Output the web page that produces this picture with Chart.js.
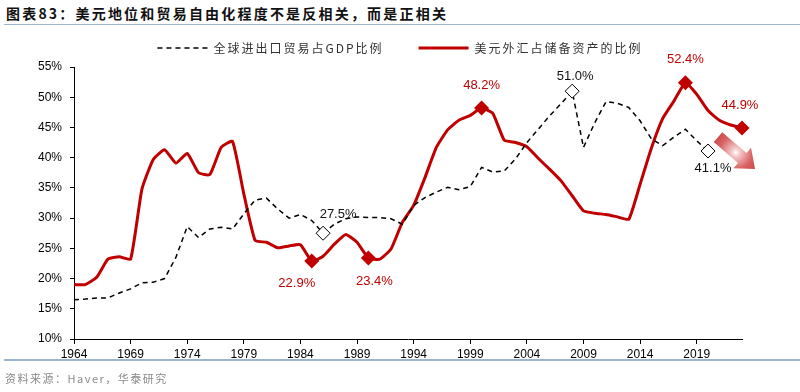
<!DOCTYPE html>
<html>
<head>
<meta charset="utf-8">
<script src="https://cdn.jsdelivr.net/npm/chart.js@4.4.1/dist/chart.umd.min.js"></script>
<style>
  body { margin: 0; width: 800px; height: 392px; position: relative; background: #fff; overflow: hidden; }
  #title { position: absolute; left: 6px; top: 4px; font: bold 14px "Noto Sans CJK SC", sans-serif; letter-spacing: 2.2px; color: #111; line-height: 18px; }
  #topline { position: absolute; left: 4px; right: 0; top: 24px; height: 0; border-top: 1.5px solid #9db3cf; }
  #botline { position: absolute; left: 4px; right: 0; top: 359px; height: 0; border-top: 2px solid #9db3cf; }
  #source { position: absolute; left: 5px; top: 370px; font: 11px "Noto Sans CJK SC", sans-serif; letter-spacing: 1.5px; color: #8a8a8a; line-height: 16px; }
  #chart { position: absolute; left: 0; top: 0; }
</style>
</head>
<body>
<div id="title">图表83：美元地位和贸易自由化程度不是反相关，而是正相关</div>
<div id="topline"></div>
<canvas id="chart" width="800" height="392"></canvas>
<div id="botline"></div>
<div id="source">资料来源：Haver，华泰研究</div>

<script>
"use strict";

// 数据
const firstYear = 1964;
const tickYears = [1964, 1969, 1974, 1979, 1984, 1989, 1994, 1999, 2004, 2009, 2014, 2019];

const tradeName = "全球进出口贸易占GDP比例";
const tradeShare = [
    16.5, 16.6, 16.8, 16.8, 17.6, 18.3, 19.3, 19.4, 20.0, 23.5,
    28.6, 26.8, 28.2, 28.5, 28.2, 30.7, 33.0, 33.3, 31.5, 30.0,
    30.6, 29.6, 27.5, 29.0, 29.9, 30.2, 30.1, 30.1, 29.9, 29.0,
    32.1, 33.4, 34.3, 35.1, 34.7, 35.2, 38.4, 37.6, 37.8, 39.8,
    42.5, 44.7, 46.9, 48.9, 51.0, 41.7, 45.8, 49.3, 49.0, 48.3,
    46.1, 43.1, 42.0, 43.4, 44.7, 42.8, 41.1
];

const usdName = "美元外汇占储备资产的比例";
const usdShare = [
    19.0, 19.0, 20.2, 23.2, 23.6, 23.2, 34.8, 39.7, 41.3, 39.1,
    40.7, 37.5, 37.2, 41.7, 42.7, 34.0, 26.3, 26.0, 25.1, 25.4,
    25.6, 22.9, 23.7, 25.7, 27.3, 26.0, 23.4, 23.2, 24.9, 29.3,
    32.1, 36.7, 41.7, 44.6, 46.2, 47.0, 48.2, 47.3, 42.9, 42.5,
    41.8, 39.9, 38.1, 36.2, 33.7, 31.2, 30.8, 30.6, 30.2, 29.8,
    35.6, 41.6, 46.5, 49.4, 52.4, 50.5, 47.8, 46.2, 45.4, 44.9
];

// 标注的年份
const tradeMarkYears = [1986, 2008, 2020];
const usdMarkYears = [1985, 1990, 2000, 2018, 2023];

// 样式
const RED = "#c00000";
const labelOffsets = {
    0: { 1986: [15, -19], 2008: [3, -15], 2020: [5, 17] },
    1: { 1985: [-15, 22], 1990: [6, 23], 2000: [0, -23], 2018: [0, -23], 2023: [-2, -23] }
};
const LEGEND_DX = 29;

const toPoints = vals => vals.map((v, i) => ({ x: firstYear + i, y: v }));

// 数值标签 + 箭头
const markLabels = {
    id: "markLabels",
    afterDatasetsDraw(chart) {
        const ctx = chart.ctx;
        ctx.save();
        ctx.font = '13px "Liberation Sans", Arial, sans-serif';
        ctx.textAlign = "center";
        ctx.textBaseline = "middle";
        [[0, tradeMarkYears, tradeShare, "#111"], [1, usdMarkYears, usdShare, RED]].forEach(([ds, marks, vals, color]) => {
            const meta = chart.getDatasetMeta(ds);
            ctx.fillStyle = color;
            marks.forEach(year => {
                const i = year - firstYear;
                const pt = meta.data[i];
                const off = labelOffsets[ds][year];
                ctx.fillText(vals[i].toFixed(1) + "%", pt.x + off[0], pt.y + off[1]);
            });
        });

        // 趋势箭头，挂在最后一个点旁边
        const last = chart.getDatasetMeta(1).data[usdShare.length - 1];
        const sx = last.x - 24, sy = last.y + 9;
        const ang = Math.atan2(32, 37), len = 49;
        ctx.translate(sx, sy);
        ctx.rotate(ang);
        const g = ctx.createRadialGradient(len * 0.48, 0, 0, len * 0.48, 0, 30);
        g.addColorStop(0, "#ffffff");
        g.addColorStop(0.15, "#f3c6c6");
        g.addColorStop(0.55, "#d86262");
        g.addColorStop(1, "#c53a3a");
        ctx.fillStyle = g;
        ctx.beginPath();
        ctx.moveTo(0, -6.5);
        ctx.lineTo(len - 17, -6.5);
        ctx.lineTo(len - 17, -13.5);
        ctx.lineTo(len, 0);
        ctx.lineTo(len - 17, 13.5);
        ctx.lineTo(len - 17, 6.5);
        ctx.lineTo(0, 6.5);
        ctx.closePath();
        ctx.fill();
        ctx.restore();
    }
};

// 图例字距
const legendSpacing = {
    id: "legendSpacing",
    afterInit(chart) {
        const lg = chart.legend;
        const fit = lg.fit.bind(lg);
        const draw = lg.draw.bind(lg);
        lg.fit = function () {
            chart.ctx.save();
            chart.ctx.letterSpacing = "2px";
            fit();
            chart.ctx.restore();
            this.height = 60;
        };
        lg.draw = function () {
            const ctx = chart.ctx;
            ctx.save();
            ctx.letterSpacing = "2px";
            ctx.translate(LEGEND_DX, 0);
            draw();
            ctx.restore();
        };
    }
};

const tickFont = { family: '"Liberation Sans", Arial, sans-serif', size: 12 };

new Chart(document.getElementById("chart").getContext("2d"), {
    type: "line",
    data: {
        datasets: [
            {
                label: tradeName,
                data: toPoints(tradeShare),
                borderColor: "#000",
                borderWidth: 1.5,
                borderDash: [5, 4],
                tension: 0,
                clip: false,
                pointStyle: "rectRot",
                pointRadius: c => tradeMarkYears.includes(firstYear + c.dataIndex) ? 7 : 0,
                pointBackgroundColor: "#fff",
                pointBorderColor: "#000",
                pointBorderWidth: 1
            },
            {
                label: usdName,
                data: toPoints(usdShare),
                borderColor: RED,
                borderWidth: 3,
                tension: 0.15,
                clip: false,
                pointStyle: "rectRot",
                pointRadius: c => usdMarkYears.includes(firstYear + c.dataIndex) ? 7.5 : 0,
                pointBackgroundColor: RED,
                pointBorderColor: RED,
                pointBorderWidth: 0
            }
        ]
    },
    options: {
        responsive: false,
        animation: false,
        devicePixelRatio: 1,
        layout: { padding: { top: 7, left: 0, right: 58, bottom: 0 } },
        plugins: {
            tooltip: { enabled: false },
            legend: {
                position: "top",
                labels: {
                    usePointStyle: true,
                    pointStyleWidth: 50,
                    padding: 35,
                    color: "#333",
                    font: { family: '"Noto Sans CJK SC", sans-serif', size: 12 },
                    generateLabels: chart => chart.data.datasets.map((ds, i) => ({
                        text: ds.label,
                        datasetIndex: i,
                        pointStyle: "line",
                        strokeStyle: ds.borderColor,
                        fillStyle: ds.borderColor,
                        lineWidth: i === 0 ? 1.5 : 3,
                        lineDash: i === 0 ? [5, 4] : [],
                        fontColor: "#333"
                    }))
                }
            }
        },
        scales: {
            x: {
                type: "linear",
                min: 1964,
                max: 2023,
                afterBuildTicks: axis => { axis.ticks = tickYears.map(v => ({ value: v })); },
                afterFit: axis => { axis.height = 53; },
                grid: { drawOnChartArea: false, drawTicks: true, tickLength: 5, color: "#000" },
                border: { color: "#000", width: 1 },
                ticks: { font: tickFont, color: "#000", padding: 3, maxRotation: 0, callback: v => String(v) }
            },
            y: {
                min: 10,
                max: 55,
                afterFit: axis => { axis.width = 74; },
                grid: { drawOnChartArea: false, drawTicks: true, tickLength: 4, color: "#000" },
                border: { color: "#000", width: 1 },
                ticks: { font: tickFont, color: "#000", stepSize: 5, padding: 8, callback: v => v + "%" }
            }
        }
    },
    plugins: [markLabels, legendSpacing]
});
</script>
</body>
</html>
